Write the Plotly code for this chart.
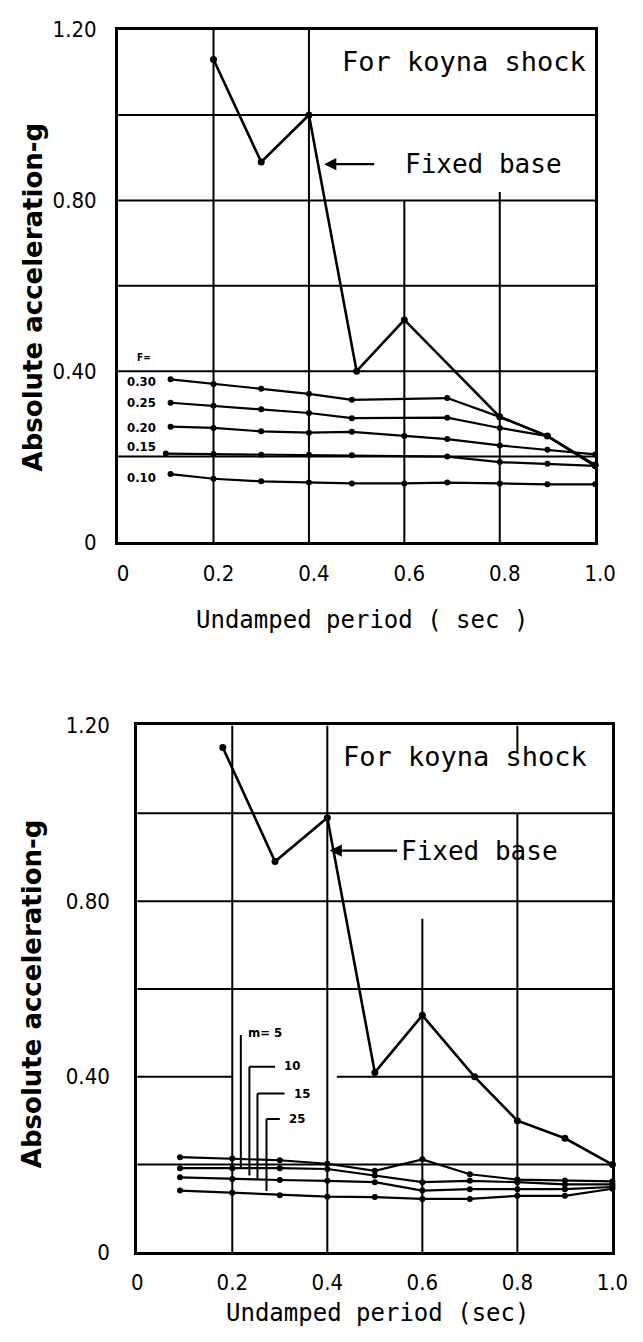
import plotly.graph_objects as go

# ---------------- data ----------------
# Top chart : fixed base and F-series
fixed_top_period = [0.2, 0.3, 0.4, 0.5, 0.6, 0.8, 0.9, 1.0]
fixed_top_accel = [1.13, 0.89, 1.00, 0.40, 0.52, 0.293, 0.248, 0.18]

f_labels = ["0.30", "0.25", "0.20", "0.15", "0.10"]
f030_period = [0.11, 0.2, 0.3, 0.4, 0.49, 0.69, 0.8, 0.9, 1.0]
f030_accel = [0.381, 0.370, 0.359, 0.347, 0.333, 0.337, 0.293, 0.248, 0.178]
f025_period = [0.11, 0.2, 0.3, 0.4, 0.49, 0.69, 0.8, 0.9, 1.0]
f025_accel = [0.326, 0.319, 0.311, 0.302, 0.290, 0.291, 0.267, 0.248, 0.178]
f020_period = [0.11, 0.2, 0.3, 0.4, 0.49, 0.6, 0.69, 0.8, 0.9, 1.0]
f020_accel = [0.270, 0.267, 0.259, 0.256, 0.258, 0.248, 0.241, 0.226, 0.216, 0.205]
f015_period = [0.1, 0.2, 0.3, 0.4, 0.49, 0.69, 0.8, 0.9, 1.0]
f015_accel = [0.207, 0.206, 0.204, 0.204, 0.203, 0.200, 0.187, 0.183, 0.178]
f010_period = [0.11, 0.2, 0.3, 0.4, 0.49, 0.6, 0.69, 0.8, 0.9, 1.0]
f010_accel = [0.159, 0.148, 0.142, 0.139, 0.137, 0.137, 0.139, 0.137, 0.135, 0.135]

# Bottom chart : fixed base and m-series
fixed_bot_period = [0.18, 0.29, 0.4, 0.5, 0.6, 0.71, 0.8, 0.9, 1.0]
fixed_bot_accel = [1.15, 0.89, 0.99, 0.41, 0.54, 0.40, 0.30, 0.26, 0.20]

m_labels = ["m= 5", "10", "15", "25"]
m_period = [0.09, 0.2, 0.3, 0.4, 0.5, 0.6, 0.7, 0.8, 0.9, 1.0]
m05_accel = [0.217, 0.214, 0.210, 0.202, 0.186, 0.212, 0.178, 0.166, 0.164, 0.162]
m10_accel = [0.192, 0.192, 0.192, 0.190, 0.175, 0.160, 0.163, 0.160, 0.155, 0.155]
m15_accel = [0.171, 0.167, 0.165, 0.163, 0.160, 0.141, 0.144, 0.144, 0.144, 0.149]
m25_accel = [0.141, 0.136, 0.130, 0.127, 0.126, 0.122, 0.122, 0.129, 0.129, 0.145]

x_tickvals = [0, 0.2, 0.4, 0.6, 0.8, 1.0]
x_ticktext = ["0", "0.2", "0.4", "0.6", "0.8", "1.0"]
y_tickvals = [0, 0.4, 0.8, 1.2]
y_ticktext = ["0", "0.40", "0.80", "1.20"]

# ---------------- layout constants ----------------
W, H = 643, 1342
TICK_FONT = "Liberation Sans Narrow, DejaVu Sans Condensed, Liberation Sans, sans-serif"
TITLE_FONT = "DejaVu Sans Mono, monospace"
LABEL_FONT = "DejaVu Sans Condensed, DejaVu Sans, sans-serif"


def px(xp):
    return xp / W


def py(yp):
    return 1 - yp / H


top_box = dict(x0=117, x1=615, y0=18, y1=540)
bot_box = dict(x0=137, x1=633, y0=727, y1=1264)

# grid segments: (value, from, to)
top_vgrid = [(0.2, 0, 1.2), (0.4, 0, 1.2), (0.6, 0, 0.8), (0.8, 0, 0.82)]
top_hgrid = [(0.2, 0, 1), (0.4, 0, 1), (0.6, 0, 1), (0.8, 0, 1), (1.0, 0, 1)]
bot_vgrid = [(0.2, 0, 1.2), (0.4, 0, 1.2), (0.6, 0, 0.76), (0.8, 0, 1.0), (0.8, 1.14, 1.2)]
bot_hgrid = [(0.2, 0, 1), (0.4, 0, 0.2), (0.4, 0.42, 1), (0.6, 0, 1), (0.8, 0, 1), (1.0, 0, 1)]

fig = go.Figure()


def add_series(x, y, xa, ya, width=2.2, msize=6):
    fig.add_trace(go.Scatter(
        x=x, y=y, mode="lines+markers", xaxis=xa, yaxis=ya,
        line=dict(color="black", width=width),
        marker=dict(color="black", size=msize),
        cliponaxis=False, showlegend=False, hoverinfo="skip"))


# top chart
add_series(fixed_top_period, fixed_top_accel, "x", "y", width=2.6, msize=7)
for xs, ys in [(f030_period, f030_accel), (f025_period, f025_accel),
               (f020_period, f020_accel), (f015_period, f015_accel),
               (f010_period, f010_accel)]:
    add_series(xs, ys, "x", "y")

# bottom chart
add_series(fixed_bot_period, fixed_bot_accel, "x2", "y2", width=2.6, msize=7)
for ys in [m05_accel, m10_accel, m15_accel, m25_accel]:
    add_series(m_period, ys, "x2", "y2")

shapes = []


def grid(vlist, hlist, xr, yr):
    for v, a, b in vlist:
        shapes.append(dict(type="line", xref=xr, yref=yr, x0=v, x1=v, y0=a, y1=b,
                           line=dict(color="black", width=2), layer="below"))
    for v, a, b in hlist:
        shapes.append(dict(type="line", xref=xr, yref=yr, x0=a, x1=b, y0=v, y1=v,
                           line=dict(color="black", width=2), layer="below"))


grid(top_vgrid, top_hgrid, "x", "y")
grid(bot_vgrid, bot_hgrid, "x2", "y2")

# m leader lines (corner x, corner y, end x, bottom y)
m_leaders = [(0.218, 0.495, None, 0.19), (0.236, 0.423, 0.29, 0.175),
             (0.253, 0.362, 0.31, 0.165), (0.272, 0.304, 0.30, 0.14)]
for cx, cy, ex, by in m_leaders:
    shapes.append(dict(type="line", xref="x2", yref="y2", x0=cx, x1=cx, y0=by, y1=cy,
                       line=dict(color="black", width=2)))
    if ex is not None:
        shapes.append(dict(type="line", xref="x2", yref="y2", x0=cx, x1=ex, y0=cy, y1=cy,
                           line=dict(color="black", width=2)))

annotations = []
BIG = dict(family=TITLE_FONT, size=27, color="black")
MID = dict(family=TITLE_FONT, size=26, color="black")


def note(**kw):
    kw.setdefault("showarrow", False)
    kw.setdefault("xanchor", "center")
    kw.setdefault("yanchor", "middle")
    annotations.append(kw)


# box texts
note(xref="x", yref="y", x=0.725, y=1.125, text="For koyna shock", font=BIG)
note(xref="x", yref="y", x=0.765, y=0.885, text="Fixed base", font=MID)
note(xref="x", yref="y", x=0.432, y=0.885, ax=0.54, ay=0.885, axref="x", ayref="y",
     text="", showarrow=True, arrowhead=2, arrowsize=1.1, arrowwidth=2.2, arrowcolor="black")
note(xref="x2", yref="y2", x=0.69, y=1.13, text="For koyna shock", font=BIG)
note(xref="x2", yref="y2", x=0.72, y=0.915, text="Fixed base", font=MID)
note(xref="x2", yref="y2", x=0.405, y=0.915, ax=0.55, ay=0.915, axref="x2", ayref="y2",
     text="", showarrow=True, arrowhead=2, arrowsize=1.1, arrowwidth=2.2, arrowcolor="black")

# F labels
SMALL = dict(family=LABEL_FONT, size=13, color="black")
note(xref="x", yref="y", x=0.035, y=0.432, text="<b>F=</b>", xanchor="left",
     font=dict(family=LABEL_FONT, size=10, color="black"))
for lab, yv in zip(f_labels, [0.375, 0.326, 0.268, 0.224, 0.152]):
    note(xref="x", yref="y", x=0.015, y=yv, text="<b>" + lab + "</b>", xanchor="left", font=SMALL)

# m labels
for lab, (xv, yv) in zip(m_labels, [(0.228, 0.50), (0.305, 0.425), (0.325, 0.362), (0.315, 0.304)]):
    note(xref="x2", yref="y2", x=xv, y=yv, text="<b>" + lab + "</b>", xanchor="left", font=SMALL)

# axis titles
TITLE = dict(family=TITLE_FONT, size=24, color="black")
note(xref="paper", yref="paper", x=px(372), y=py(620), text="Undamped period ( sec )", font=TITLE)
note(xref="paper", yref="paper", x=px(388), y=py(1326), text="Undamped period (sec)", font=TITLE)
YT = dict(family="DejaVu Sans, sans-serif", size=26, color="black")
note(xref="paper", yref="paper", x=px(28), y=py(290), text="<b>Absolute acceleration-g</b>",
     textangle=-90, font=YT)
note(xref="paper", yref="paper", x=px(28), y=py(1000), text="<b>Absolute acceleration-g</b>",
     textangle=-90, font=YT)

TICKF = dict(family=TICK_FONT, size=22, color="black")
ax_common = dict(showline=True, mirror=True, linecolor="black", linewidth=3,
                 showgrid=False, zeroline=False, ticks="", tickfont=TICKF,
                 fixedrange=True)

fig.update_layout(
    width=W, height=H,
    margin=dict(l=0, r=0, t=0, b=0),
    paper_bgcolor="white", plot_bgcolor="white",
    showlegend=False,
    shapes=shapes, annotations=annotations,
    xaxis=dict(domain=[px(top_box["x0"]), px(top_box["x1"])], range=[0, 1], anchor="y",
               tickvals=x_tickvals, ticktext=x_ticktext, ticklabelstandoff=10,
               ticklabelshift=5, **ax_common),
    yaxis=dict(domain=[py(top_box["y1"]), py(top_box["y0"])], range=[0, 1.2], anchor="x",
               tickvals=y_tickvals, ticktext=y_ticktext, ticklabelstandoff=14, **ax_common),
    xaxis2=dict(domain=[px(bot_box["x0"]), px(bot_box["x1"])], range=[0, 1], anchor="y2",
                tickvals=x_tickvals, ticktext=x_ticktext, ticklabelstandoff=8,
                ticklabelshift=0, **ax_common),
    yaxis2=dict(domain=[py(bot_box["y1"]), py(bot_box["y0"])], range=[0, 1.2], anchor="x2",
                tickvals=y_tickvals, ticktext=y_ticktext, ticklabelstandoff=20, **ax_common),
)

# remove the default page margin so the figure sits at the window's corner
fig.write_html("out.html", config={"displayModeBar": False},
               post_script="document.body.style.margin='0px';")
